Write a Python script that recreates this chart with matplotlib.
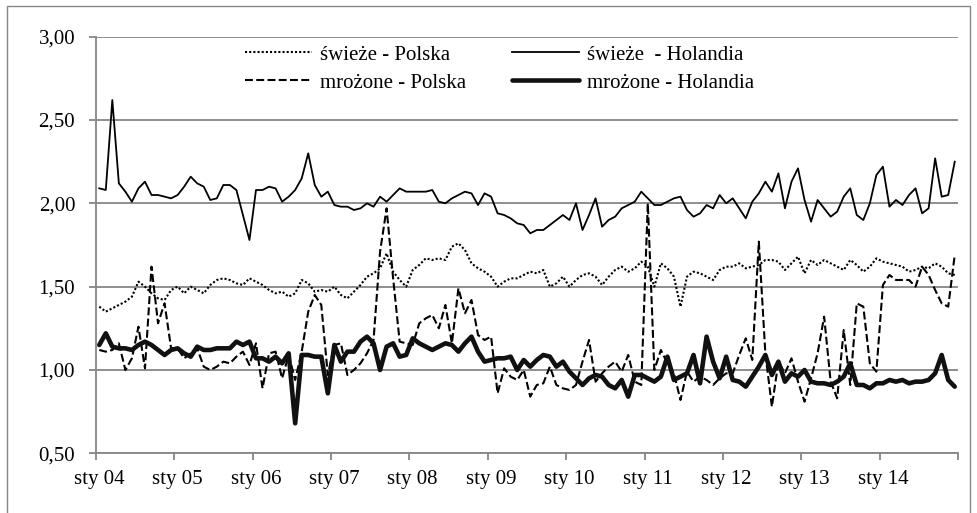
#%% Import packages
import numpy as np
import matplotlib.pyplot as plt
from matplotlib.patches import Rectangle

#%% Data: monthly prices, sty 2004 - gru 2014
lata = ['04', '05', '06', '07', '08', '09', '10', '11', '12', '13', '14']

swieze_polska = [1.38, 1.35, 1.37, 1.39, 1.41, 1.44, 1.53, 1.50, 1.46, 1.43, 1.42, 1.48, 1.50, 1.46, 1.50, 1.48, 1.46, 1.51, 1.54, 1.55, 1.54, 1.52,
                 1.51, 1.55, 1.53, 1.51, 1.48, 1.46, 1.47, 1.44, 1.46, 1.54, 1.52, 1.47, 1.48, 1.47, 1.50, 1.45, 1.43, 1.47, 1.51, 1.56, 1.58, 1.61,
                 1.70, 1.59, 1.54, 1.50, 1.60, 1.63, 1.67, 1.66, 1.67, 1.66, 1.74, 1.76, 1.72, 1.64, 1.61, 1.59, 1.56, 1.50, 1.53, 1.55, 1.55, 1.57,
                 1.59, 1.58, 1.60, 1.50, 1.52, 1.56, 1.50, 1.54, 1.57, 1.58, 1.56, 1.51, 1.56, 1.60, 1.62, 1.59, 1.61, 1.65, 1.62, 1.50, 1.64, 1.61,
                 1.56, 1.38, 1.56, 1.59, 1.58, 1.56, 1.54, 1.60, 1.62, 1.62, 1.64, 1.61, 1.62, 1.63, 1.66, 1.66, 1.65, 1.60, 1.64, 1.68, 1.58, 1.66,
                 1.63, 1.66, 1.64, 1.62, 1.60, 1.66, 1.63, 1.59, 1.62, 1.67, 1.65, 1.64, 1.63, 1.62, 1.59, 1.60, 1.62, 1.61, 1.64, 1.62, 1.58, 1.57]

mrozone_polska = [1.12, 1.11, 1.12, 1.16, 1.00, 1.07, 1.26, 1.01, 1.62, 1.28, 1.40, 1.13, 1.13, 1.07, 1.10, 1.13, 1.02, 1.00, 1.02, 1.05, 1.04, 1.08,
                  1.11, 1.03, 1.16, 0.89, 1.10, 1.11, 0.95, 1.09, 0.94, 1.11, 1.35, 1.45, 1.39, 0.97, 1.15, 1.16, 0.97, 1.00, 1.04, 1.10, 1.18, 1.71,
                  1.97, 1.55, 1.17, 1.16, 1.15, 1.28, 1.31, 1.33, 1.25, 1.39, 1.16, 1.49, 1.34, 1.42, 1.21, 1.18, 1.20, 0.86, 1.01, 0.96, 0.94, 1.00,
                  0.84, 0.91, 0.92, 1.02, 0.91, 0.89, 0.88, 0.91, 1.05, 1.18, 0.93, 0.98, 1.02, 1.05, 0.99, 1.09, 0.93, 0.91, 2.00, 1.00, 1.12, 1.04,
                  0.98, 0.82, 0.99, 0.93, 0.96, 0.94, 0.91, 0.95, 0.98, 0.98, 1.09, 1.19, 1.06, 1.77, 1.10, 0.78, 1.05, 0.98, 1.07, 0.93, 0.81, 0.95,
                  1.10, 1.32, 0.93, 0.83, 1.24, 0.91, 1.40, 1.38, 1.04, 0.99, 1.51, 1.57, 1.54, 1.54, 1.54, 1.50, 1.62, 1.57, 1.48, 1.40, 1.38, 1.69]

swieze_holandia = [2.09, 2.08, 2.62, 2.12, 2.07, 2.01, 2.09, 2.13, 2.05, 2.05, 2.04, 2.03, 2.05, 2.10, 2.16, 2.12, 2.10, 2.02, 2.03, 2.11, 2.11, 2.08,
                   1.93, 1.78, 2.08, 2.08, 2.10, 2.09, 2.01, 2.04, 2.08, 2.15, 2.30, 2.11, 2.04, 2.07, 1.99, 1.98, 1.98, 1.96, 1.97, 2.00, 1.98, 2.04,
                   2.01, 2.05, 2.09, 2.07, 2.07, 2.07, 2.07, 2.08, 2.01, 2.00, 2.03, 2.05, 2.07, 2.06, 1.99, 2.06, 2.04, 1.94, 1.93, 1.91, 1.88, 1.87,
                   1.82, 1.84, 1.84, 1.87, 1.90, 1.93, 1.90, 2.00, 1.84, 1.93, 2.03, 1.86, 1.90, 1.92, 1.97, 1.99, 2.01, 2.07, 2.03, 1.99, 1.99, 2.01,
                   2.03, 2.04, 1.96, 1.92, 1.94, 1.99, 1.97, 2.05, 2.00, 2.03, 1.97, 1.91, 2.01, 2.06, 2.13, 2.07, 2.18, 1.97, 2.13, 2.21, 2.02, 1.89,
                   2.02, 1.97, 1.92, 1.95, 2.04, 2.09, 1.93, 1.90, 2.00, 2.17, 2.22, 1.98, 2.02, 1.99, 2.05, 2.09, 1.94, 1.97, 2.27, 2.04, 2.05, 2.25]

mrozone_holandia = [1.15, 1.22, 1.14, 1.13, 1.13, 1.12, 1.15, 1.17, 1.15, 1.12, 1.09, 1.12, 1.13, 1.10, 1.08, 1.14, 1.12, 1.12, 1.13, 1.13, 1.13, 1.17,
                    1.15, 1.17, 1.07, 1.07, 1.05, 1.08, 1.04, 1.10, 0.68, 1.09, 1.09, 1.08, 1.08, 0.86, 1.15, 1.05, 1.11, 1.11, 1.17, 1.20, 1.16, 1.00,
                    1.14, 1.16, 1.08, 1.09, 1.19, 1.16, 1.14, 1.12, 1.14, 1.16, 1.15, 1.11, 1.16, 1.20, 1.11, 1.05, 1.06, 1.07, 1.07, 1.08, 1.00, 1.06,
                    1.02, 1.06, 1.09, 1.08, 1.02, 1.05, 0.99, 0.95, 0.91, 0.95, 0.97, 0.96, 0.91, 0.89, 0.94, 0.84, 0.97, 0.97, 0.95, 0.93, 0.96, 1.08,
                    0.94, 0.96, 0.98, 1.09, 0.92, 1.20, 1.05, 0.95, 1.08, 0.94, 0.93, 0.90, 0.96, 1.02, 1.09, 0.97, 1.05, 0.93, 0.98, 0.96, 1.00, 0.93,
                    0.92, 0.92, 0.91, 0.93, 0.96, 1.04, 0.91, 0.91, 0.89, 0.92, 0.92, 0.94, 0.93, 0.94, 0.92, 0.93, 0.93, 0.94, 0.98, 1.09, 0.94, 0.90]

y_ticks = [0.5, 1.0, 1.5, 2.0, 2.5, 3.0]

#%% Figure
plt.rcParams['font.family'] = ['Liberation Serif', 'DejaVu Serif']
plt.rcParams['font.size'] = 15

GRAY = '#868686'

fig = plt.figure(figsize=(9.78, 5.13), dpi=100)
ax = fig.add_axes([96/978, 1 - 453.3/513, 862/978, 416.6/513])

n = len(swieze_polska)
x = np.arange(n) + 0.5

ax.plot(x, swieze_polska, color='black', lw=1.5, dashes=(1, 1), label='świeże - Polska')
ax.plot(x, mrozone_polska, color='black', lw=1.5, dashes=(3.8, 1.6), label='mrożone - Polska')
ax.plot(x, swieze_holandia, color='black', lw=1.3, label='świeże  - Holandia')
ax.plot(x, mrozone_holandia, color='#111111', lw=3.3, solid_capstyle='round', label='mrożone - Holandia')

#%% Axes
ax.set_xlim(0, n)
ax.set_ylim(0.5, 3.0)
ax.set_yticks(y_ticks)
ax.set_yticklabels([('%.2f' % v).replace('.', ',') for v in y_ticks])
ax.yaxis.grid(True, color=GRAY, lw=1.3)
ax.set_axisbelow(True)

# tick marks between years, labels on january
ax.set_xticks(np.arange(0, n + 1, 12))
ax.set_xticklabels([])
ax.set_xticks(np.arange(0, n, 12) + 0.5, minor=True)
ax.set_xticklabels(['sty ' + r for r in lata], minor=True)
ax.tick_params(axis='x', which='major', length=5, width=1.3, color=GRAY, direction='out')
ax.tick_params(axis='x', which='minor', length=0, pad=12)
ax.tick_params(axis='y', length=5, width=1.3, color=GRAY, pad=10)

for s in ['top', 'right']:
    ax.spines[s].set_visible(False)
for s in ['left', 'bottom']:
    ax.spines[s].set_color(GRAY)
    ax.spines[s].set_linewidth(1.3)

ax.legend(loc='upper left', bbox_to_anchor=((235 - 96)/862, 1.005), ncol=2, frameon=False,
          borderpad=0, handlelength=3.2, handletextpad=0.4, columnspacing=2.2, labelspacing=0.4)

# chart area border
fig.patches.append(Rectangle((7/978, -0.01), 963/978, 1.0 - 6/513 + 0.01, transform=fig.transFigure,
                             fill=False, edgecolor=GRAY, lw=1.0))

fig.savefig('out.png', dpi=100)
